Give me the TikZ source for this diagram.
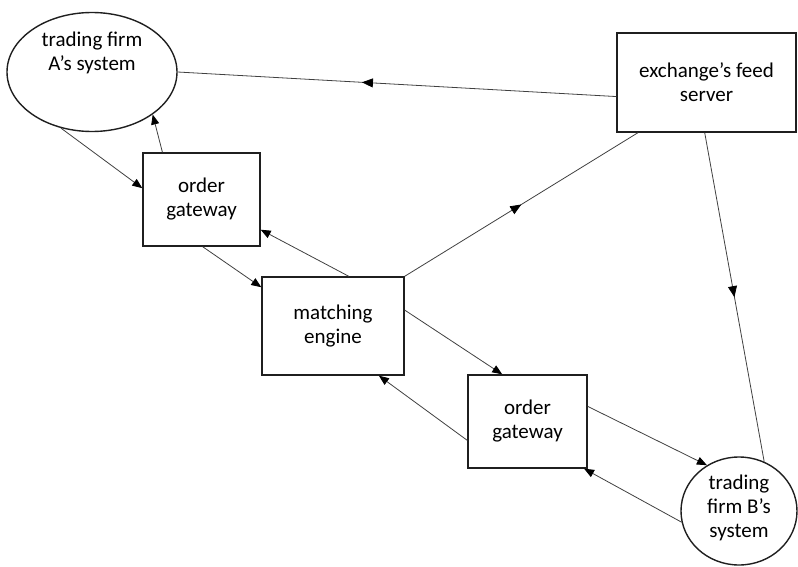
\documentclass[tikz,border=0pt]{standalone}
\usepackage{fontspec}
\setmainfont{Carlito}
\usetikzlibrary{shapes.geometric,arrows.meta,calc,decorations.markings}
\tikzset{
  boxnode/.style={draw=black!88, line width=1.4pt, rectangle, align=center, inner sep=0pt,
    font=\fontsize{21}{24}\selectfont},
  ellnode/.style={draw=black!88, line width=1.4pt, ellipse, inner sep=0pt},
  txt/.style={align=center, font=\fontsize{21}{24}\selectfont, inner sep=0pt},
  conn/.style={draw=black!75, line width=0.8pt},
  endarrow/.style={conn, -{Triangle[length=10pt,width=8pt,color=black]}},
  midarrow/.style={conn, postaction={decorate}, decoration={markings,
    mark=at position #1 with {\arrow{Triangle[length=11pt,width=9pt,color=black]}}}}
}
\begin{document}
\begin{tikzpicture}[x=1pt,y=-1pt]
\useasboundingbox (0,0) rectangle (798,567);
% nodes
\node[ellnode, minimum width=170, minimum height=119] (A) at (92,72) {};
\node[txt] (At) at (92,53) {trading firm\\A’s system};
\node[boxnode, minimum width=179, minimum height=99] (F) at (706.5,82.5) {exchange’s feed\\server};
\node[boxnode, minimum width=117, minimum height=93] (G1) at (201.5,199.5) {order\\gateway};
\node[boxnode, minimum width=142, minimum height=98] (M) at (333,326) {matching\\engine};
\node[boxnode, minimum width=119, minimum height=93] (G2) at (527.5,421.5) {order\\gateway};
\node[ellnode, minimum width=116, minimum height=108] (B) at (739,511) {};
\node[txt] (Bt) at (739,508) {trading\\firm B’s\\system};
% connectors with mid arrows
\draw[midarrow=0.58] ($(F.north west)!0.64!(F.south west)$) -- (A.east);
\draw[midarrow=0.5] (M.north east) -- ($(F.south west)!0.12!(F.south east)$);
\draw[midarrow=0.5] ($(F.south west)!0.49!(F.south east)$) -- (B.63);
% connectors with end arrows
\draw[endarrow] (A.-119) -- ($(G1.north west)!0.38!(G1.south west)$);
\draw[endarrow] ($(G1.north west)!0.17!(G1.north east)$) -- (A.-35);
\draw[endarrow] ($(G1.south west)!0.51!(G1.south east)$) -- ($(M.north west)!0.11!(M.south west)$);
\draw[endarrow] ($(M.north west)!0.61!(M.north east)$) -- ($(G1.north east)!0.82!(G1.south east)$);
\draw[endarrow] ($(M.north east)!0.34!(M.south east)$) -- ($(G2.north west)!0.29!(G2.north east)$);
\draw[endarrow] ($(G2.north west)!0.70!(G2.south west)$) -- ($(M.south west)!0.82!(M.south east)$);
\draw[endarrow] ($(G2.north east)!0.34!(G2.south east)$) -- (B.125);
\draw[endarrow] (B.191) -- ($(G2.south west)!0.97!(G2.south east)$);
\end{tikzpicture}
\end{document}
